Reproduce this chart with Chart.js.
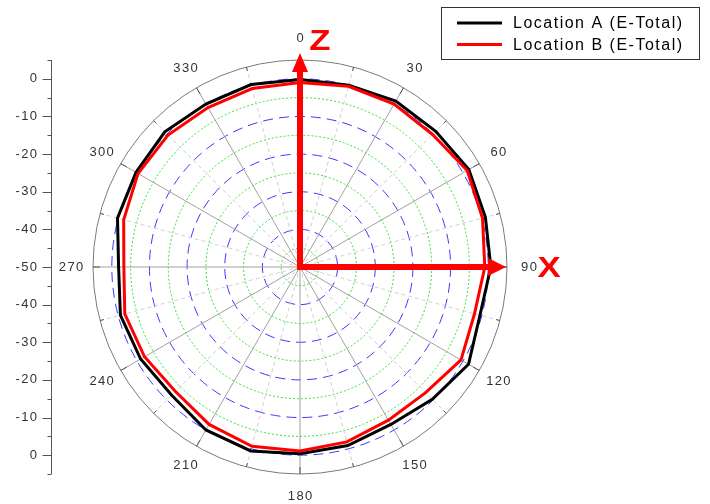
<!DOCTYPE html>
<html>
<head>
<meta charset="utf-8">
<title>E-Total polar pattern</title>
<script src="https://cdn.jsdelivr.net/npm/chart.js@4.4.0/dist/chart.umd.min.js"></script>
<style>
  html, body { margin: 0; padding: 0; background: #ffffff; }
  #wrap { width: 710px; height: 504px; position: relative; }
</style>
</head>
<body>
<div id="wrap"><canvas id="polar" width="710" height="504"></canvas></div>
<script>
// Azimuth of each sample, degrees clockwise from Z (top)
const azimuths = [0, 15, 30, 45, 60, 75, 90, 105, 120, 135, 150, 165,
                  180, 195, 210, 225, 240, 255, 270, 285, 300, 315, 330, 345];

// Angle labels shown round the rim (every 30 degrees)
const azimuthLabels = ['0', '', '30', '', '60', '', '90', '', '120', '', '150', '',
                       '180', '', '210', '', '240', '', '270', '', '300', '', '330', ''];

// Measured field level (dB) per azimuth
const locationA = [-0.2, 0.0, 0.9, 1.0, 1.8, 1.0, 0.7, -0.5, 1.7, -0.3, -1.7, -0.9,
                   -0.4, 0.6, 0.0, -1.8, -1.1, -0.6, -1.8, 0.2, 0.3, 0.8, 0.0, 0.2];
const locationB = [-1.0, -0.3, 0.0, -0.2, 1.3, 0.2, -0.9, -2.0, -0.6, -2.8, -3.0, -1.9,
                   -1.1, -0.7, -1.7, -3.2, -2.3, -1.8, -3.2, -1.5, -0.3, -0.4, -1.1, -0.9];

const seriesNames = ['Location A (E-Total)', 'Location B (E-Total)'];

// Radial range and the level ticks written on the side axis
const radialMin = -50;
const radialMax = 5;
const levelTicks = [0, -10, -20, -30, -40, -50];

const labelFont = '13px "Liberation Sans", Arial, sans-serif';

function drawSpacedText(ctx, text, x, y, align, spacing) {
  ctx.save();
  if ('letterSpacing' in ctx) {
    ctx.letterSpacing = spacing + 'px';
    const w = ctx.measureText(text).width - spacing;
    let left = x;
    if (align === 'center') left = x - w / 2;
    else if (align === 'right') left = x - w;
    ctx.textAlign = 'left';
    ctx.fillText(text, left, y);
  } else {
    ctx.textAlign = align;
    ctx.fillText(text, x, y);
  }
  ctx.restore();
}

const polarDecor = {
  id: 'polarDecor',
  beforeDatasetsDraw(chart) {
    const r = chart.scales.r;
    const ctx = chart.ctx;
    const cx = r.xCenter, cy = r.yCenter;
    const outer = r.getDistanceFromCenterForValue(radialMax);

    // inward ticks on the rim
    ctx.save();
    ctx.strokeStyle = '#555555';
    ctx.lineWidth = 1;
    for (let i = 0; i < azimuths.length; i++) {
      const len = azimuthLabels[i] !== '' ? 7 : 4;
      const p1 = r.getPointPosition(i, outer);
      const p2 = r.getPointPosition(i, outer - len);
      ctx.beginPath();
      ctx.moveTo(p1.x, p1.y);
      ctx.lineTo(p2.x, p2.y);
      ctx.stroke();
    }
    ctx.restore();

    // angle labels
    ctx.save();
    ctx.fillStyle = '#333333';
    ctx.font = labelFont;
    ctx.textBaseline = 'middle';
    for (let i = 0; i < azimuths.length; i++) {
      if (azimuthLabels[i] === '') continue;
      const p = r.getPointPosition(i, outer + 22);
      drawSpacedText(ctx, azimuthLabels[i], p.x, p.y, 'center', 1.3);
    }
    ctx.restore();

    // mirrored level axis on the left
    const axisX = 51.5;
    ctx.save();
    ctx.strokeStyle = '#555555';
    ctx.lineWidth = 1;
    ctx.beginPath();
    ctx.moveTo(axisX, cy - outer);
    ctx.lineTo(axisX, cy + outer);
    ctx.stroke();
    for (let v = radialMin; v <= radialMax; v += 5) {
      const d = r.getDistanceFromCenterForValue(v);
      const len = v % 10 === 0 ? 9 : 4;
      const ys = d === 0 ? [cy] : [cy - d, cy + d];
      ys.forEach(y => {
        const yy = Math.round(y) + 0.5;
        ctx.beginPath();
        ctx.moveTo(axisX - len, yy);
        ctx.lineTo(axisX, yy);
        ctx.stroke();
      });
    }
    ctx.fillStyle = '#333333';
    ctx.font = labelFont;
    ctx.textBaseline = 'middle';
    levelTicks.forEach(v => {
      const d = r.getDistanceFromCenterForValue(v);
      const ys = d === 0 ? [cy] : [cy - d, cy + d];
      ys.forEach(y => drawSpacedText(ctx, String(v), 37, y, 'right', 1.3));
    });
    ctx.restore();
  },
  afterDatasetsDraw(chart) {
    const r = chart.scales.r;
    const ctx = chart.ctx;
    const cx = r.xCenter, cy = r.yCenter;
    const outer = r.getDistanceFromCenterForValue(radialMax);

    // coordinate arrows
    ctx.save();
    ctx.fillStyle = '#ff0000';
    const shaft = 6;
    const zTip = cy - outer - 7;
    const xTip = cx + outer - 1;
    ctx.fillRect(cx - shaft / 2, zTip + 19, shaft, cy - zTip - 19 + shaft / 2);
    ctx.beginPath();
    ctx.moveTo(cx, zTip);
    ctx.lineTo(cx - 8, zTip + 19);
    ctx.lineTo(cx + 8, zTip + 19);
    ctx.closePath();
    ctx.fill();
    ctx.fillRect(cx - shaft / 2, cy - shaft / 2, xTip - 18 - cx + shaft / 2, shaft);
    ctx.beginPath();
    ctx.moveTo(xTip, cy);
    ctx.lineTo(xTip - 18, cy - 9);
    ctx.lineTo(xTip - 18, cy + 9);
    ctx.closePath();
    ctx.fill();

    ctx.font = 'bold 29px "Liberation Sans", Arial, sans-serif';
    ctx.textAlign = 'center';
    ctx.textBaseline = 'middle';
    [['Z', cx + 20, cy - 226], ['X', cx + 249, cy + 1]].forEach(([t, x, y]) => {
      ctx.save();
      ctx.translate(x, y + 1);
      ctx.scale(1.2, 1);
      ctx.fillText(t, 0, 0);
      ctx.restore();
    });
    ctx.restore();

    // legend box
    ctx.save();
    ctx.strokeStyle = '#333333';
    ctx.lineWidth = 1;
    ctx.strokeRect(441.5, 7.5, 258, 52);
    ctx.font = '16px "Liberation Sans", Arial, sans-serif';
    ctx.textBaseline = 'middle';
    ctx.fillStyle = '#000000';
    chart.data.datasets.forEach((ds, i) => {
      const y = 23 + i * 21.5;
      ctx.strokeStyle = ds.borderColor;
      ctx.lineWidth = 3;
      ctx.beginPath();
      ctx.moveTo(457, y);
      ctx.lineTo(502, y);
      ctx.stroke();
      drawSpacedText(ctx, ds.label, 513, y + 1, 'left', 1.5);
    });
    ctx.restore();
  }
};

new Chart(document.getElementById('polar'), {
  type: 'radar',
  data: {
    labels: azimuthLabels,
    datasets: [
      {
        label: seriesNames[0],
        data: locationA,
        borderColor: '#000000',
        borderWidth: 3,
        fill: false,
        pointRadius: 0,
        tension: 0,
        order: 1
      },
      {
        label: seriesNames[1],
        data: locationB,
        borderColor: '#ff0000',
        borderWidth: 3,
        fill: false,
        pointRadius: 0,
        tension: 0,
        order: 0
      }
    ]
  },
  options: {
    responsive: false,
    animation: false,
    devicePixelRatio: 1,
    layout: { padding: { left: 93, top: 60, right: 203, bottom: 30 } },
    plugins: {
      legend: { display: false },
      tooltip: { enabled: false }
    },
    scales: {
      r: {
        min: radialMin,
        max: radialMax,
        ticks: { display: false, stepSize: 5 },
        pointLabels: { display: false },
        grid: {
          circular: true,
          lineWidth: 1,
          color: c => {
            const v = c.tick.value;
            if (v === radialMax) return '#7a7a7a';
            if (v === radialMin) return 'rgba(0,0,0,0)';
            return v % 10 === 0 ? '#3a3aff' : '#30e030';
          }
        },
        border: {
          dash: c => {
            const v = c.tick.value;
            if (v === radialMax) return [];
            return v % 10 === 0 ? [10, 6] : [2, 2];
          }
        },
        angleLines: {
          display: true,
          lineWidth: 1,
          color: c => (c.index % 2 === 0 ? '#a0a0a0' : '#d0d0d0'),
          borderDash: c => (c.index % 2 === 0 ? [] : [4, 3])
        }
      }
    }
  },
  plugins: [polarDecor]
});
</script>
</body>
</html>
